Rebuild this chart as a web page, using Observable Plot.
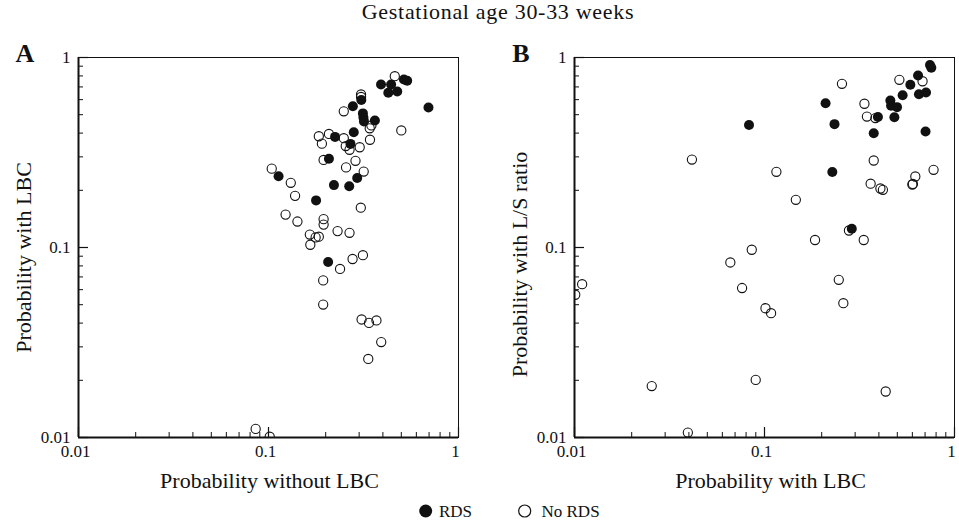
<!DOCTYPE html>
<html>
<head>
<meta charset="utf-8">
<script src="https://cdn.jsdelivr.net/npm/d3@7"></script>
<script src="https://cdn.jsdelivr.net/npm/@observablehq/plot@0.6"></script>
<style>
  html, body { margin: 0; padding: 0; background: #fff; }
  #page { position: relative; width: 959px; height: 521px; overflow: hidden; font-family: "Liberation Serif", "Times New Roman", serif; color: #111; }
  #title { position: absolute; top: 1px; left: 498px; transform: translateX(-50%); white-space: nowrap; font-size: 22px; line-height: 22px; letter-spacing: 0.7px; }
  #panelA { position: absolute; left: 0; top: 28px; }
  #panelB { position: absolute; left: 480px; top: 28px; }
  #legend { position: absolute; left: 0; top: 500px; width: 959px; height: 21px; font-size: 17px; line-height: 17px; }
  .lg { position: absolute; top: 3px; white-space: nowrap; }
  .sym { position: absolute; }
</style>
</head>
<body>
<div id="page">
  <div id="title"></div>
  <div id="panelA"></div>
  <div id="panelB"></div>
  <div id="legend"></div>
</div>
<script>
// ---------- text ----------
const titleText = "Gestational age 30-33 weeks";
const panelLetters = ["A", "B"];
const xLabels = ["Probability without LBC", "Probability with LBC"];
const yLabels = ["Probability with LBC", "Probability with L/S ratio"];
const legendLabels = ["RDS", "No RDS"];

// ---------- ticks ----------
const majorTicks = [0.01, 0.1, 1];
const majorTickLabels = ["0.01", "0.1", "1"];
const minorTicks = [0.02, 0.03, 0.04, 0.05, 0.06, 0.07, 0.08, 0.09, 0.2, 0.3, 0.4, 0.5, 0.6, 0.7, 0.8, 0.9];

// ---------- Panel A: RDS (filled) ----------
const aRdsWithout = [0.391, 0.442, 0.427, 0.476, 0.516, 0.537, 0.695, 0.278, 0.308, 0.314, 0.316, 0.318, 0.363, 0.224, 0.281, 0.270, 0.208, 0.113, 0.221, 0.266, 0.293, 0.178, 0.206];
const aRdsWith    = [0.721, 0.721, 0.652, 0.662, 0.766, 0.754, 0.545, 0.554, 0.597, 0.508, 0.483, 0.461, 0.466, 0.382, 0.404, 0.351, 0.293, 0.237, 0.213, 0.210, 0.232, 0.177, 0.0839];
// ---------- Panel A: No RDS (open) ----------
const aNoWithout = [0.462, 0.307, 0.307, 0.249, 0.500, 0.341, 0.348, 0.342, 0.184, 0.208, 0.191, 0.249, 0.255, 0.267, 0.302, 0.195, 0.287, 0.256, 0.317, 0.104, 0.131, 0.138, 0.306, 0.123, 0.142, 0.195, 0.195, 0.165, 0.177, 0.184, 0.166, 0.231, 0.267, 0.314, 0.277, 0.238, 0.194, 0.194, 0.309, 0.338, 0.370, 0.392, 0.335, 0.0856, 0.1015];
const aNoWith    = [0.797, 0.639, 0.620, 0.521, 0.413, 0.424, 0.439, 0.369, 0.385, 0.396, 0.352, 0.376, 0.342, 0.327, 0.337, 0.289, 0.286, 0.264, 0.251, 0.260, 0.219, 0.187, 0.162, 0.149, 0.137, 0.141, 0.132, 0.117, 0.113, 0.114, 0.1034, 0.122, 0.1195, 0.0911, 0.0870, 0.0771, 0.0671, 0.0501, 0.0418, 0.0401, 0.0413, 0.0318, 0.0259, 0.0111, 0.0101];

// ---------- Panel B: RDS (filled) ----------
const bRdsLBC = [0.0829, 0.2096, 0.2336, 0.2275, 0.288, 0.3757, 0.3953, 0.4597, 0.4636, 0.4983, 0.4826, 0.5333, 0.5856, 0.643, 0.650, 0.708, 0.704, 0.743, 0.755];
const bRdsLS  = [0.441, 0.575, 0.446, 0.2497, 0.1256, 0.3995, 0.486, 0.594, 0.557, 0.548, 0.485, 0.633, 0.718, 0.804, 0.640, 0.654, 0.408, 0.913, 0.883];
// ---------- Panel B: No RDS (open) ----------
const bNoLBC = [0.2557, 0.5127, 0.679, 0.3357, 0.3460, 0.3835, 0.0415, 0.1155, 0.3757, 0.776, 0.622, 0.600, 0.604, 0.3619, 0.4074, 0.4199, 0.1462, 0.2783, 0.1845, 0.3329, 0.0857, 0.0661, 0.2460, 0.0762, 0.01097, 0.01009, 0.260, 0.1012, 0.1083, 0.0255, 0.0899, 0.4344, 0.0395];
const bNoLS  = [0.727, 0.763, 0.750, 0.571, 0.489, 0.480, 0.2904, 0.2503, 0.287, 0.2564, 0.2364, 0.2146, 0.216, 0.2167, 0.2044, 0.2012, 0.1783, 0.1229, 0.1095, 0.1095, 0.0973, 0.0834, 0.0676, 0.0612, 0.0641, 0.0564, 0.0509, 0.0479, 0.0451, 0.01866, 0.0201, 0.01746, 0.01062];

const ink = "#111";
const serif = "'Liberation Serif', 'Times New Roman', serif";
const H = 472, MT = 29, MB = 63;
const innerH = H - MT - MB;

function zip(xs, ys) { return xs.map((x, i) => ({x, y: ys[i]})); }

function panel({width, marginLeft, marginRight, rds, no, letter, xLabel, yLabel, xLabelDx, yLabelDy}) {
  const innerW = width - marginLeft - marginRight;
  return Plot.plot({
    width, height: H,
    marginTop: MT, marginBottom: MB, marginLeft, marginRight,
    style: {fontFamily: serif, color: ink, background: "transparent", overflow: "visible"},
    x: {type: "log", domain: [majorTicks[0], majorTicks[2]], axis: null},
    y: {type: "log", domain: [majorTicks[0], majorTicks[2]], axis: null},
    marks: [
      Plot.frame({stroke: ink, strokeWidth: 1}),
      // inward tick marks on the bottom axis
      Plot.tickX(minorTicks, {x: d => d, insetTop: innerH - 5, stroke: ink, strokeWidth: 1}),
      Plot.tickX(majorTicks, {x: d => d, insetTop: innerH - 10, stroke: ink, strokeWidth: 1.2}),
      // inward tick marks on the left axis
      Plot.tickY(minorTicks, {y: d => d, insetRight: innerW - 5, stroke: ink, strokeWidth: 1}),
      Plot.tickY(majorTicks, {y: d => d, insetRight: innerW - 10, stroke: ink, strokeWidth: 1.2}),
      Plot.ruleX([majorTicks[0]], {stroke: ink, strokeWidth: 2}),
      Plot.ruleY([majorTicks[0]], {stroke: ink, strokeWidth: 2}),
      Plot.text(majorTicks, {x: d => d, text: (d, i) => majorTickLabels[i], frameAnchor: "bottom", dy: 14, dx: -3, fontSize: 17, lineAnchor: "middle", fill: ink}),
      Plot.text(majorTicks, {y: d => d, text: (d, i) => majorTickLabels[i], frameAnchor: "left", textAnchor: "end", dx: -8, fontSize: 17, lineAnchor: "middle", fill: ink}),
      Plot.dot(no, {x: "x", y: "y", r: 4.6, stroke: ink, strokeWidth: 1.1, fill: "none", clip: true}),
      Plot.dot(rds, {x: "x", y: "y", r: 5, fill: ink, stroke: "none", clip: true}),
      Plot.text([xLabel], {text: d => d, frameAnchor: "bottom", dy: 43.5, dx: xLabelDx, fontSize: 22, lineAnchor: "middle", fill: ink}),
      Plot.text([yLabel], {text: d => d, frameAnchor: "left", rotate: -90, dx: -55, dy: yLabelDy, fontSize: 22, lineAnchor: "middle", textAnchor: "middle", fill: ink}),
      Plot.text([letter], {text: d => d, frameAnchor: "top-left", dx: -53.5, dy: -4, fontSize: 26, fontWeight: "bold", lineAnchor: "middle", textAnchor: "middle", fill: ink})
    ]
  });
}

document.getElementById("title").textContent = titleText;

document.getElementById("panelA").appendChild(panel({
  width: 480, marginLeft: 78, marginRight: 22,
  rds: zip(aRdsWithout, aRdsWith), no: zip(aNoWithout, aNoWith),
  letter: panelLetters[0], xLabel: xLabels[0], yLabel: yLabels[0], xLabelDx: 1, yLabelDy: 10
}));
document.getElementById("panelB").appendChild(panel({
  width: 479, marginLeft: 94, marginRight: 5,
  rds: zip(bRdsLBC, bRdsLS), no: zip(bNoLBC, bNoLS),
  letter: panelLetters[1], xLabel: xLabels[1], yLabel: yLabels[1], xLabelDx: 6, yLabelDy: 17
}));

// legend
const legend = document.getElementById("legend");
legend.innerHTML =
  `<svg class="sym" style="left:418px;top:3px" width="16" height="16"><circle cx="7.7" cy="8" r="6.5" fill="${ink}"/></svg>` +
  `<span class="lg" style="left:439px">${legendLabels[0]}</span>` +
  `<svg class="sym" style="left:517px;top:3px" width="16" height="16"><circle cx="7.7" cy="8" r="6" fill="none" stroke="${ink}" stroke-width="1.2"/></svg>` +
  `<span class="lg" style="left:541.5px">${legendLabels[1]}</span>`;
</script>
</body>
</html>
